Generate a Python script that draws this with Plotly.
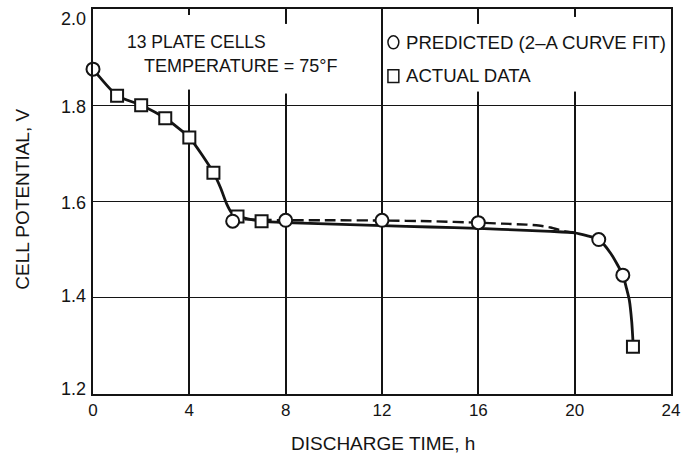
import plotly.graph_objects as go

# ---------------- data ----------------
# predicted points (circles)
pred_x = [0, 5.8, 8, 12, 16, 21, 22]
pred_y = [1.875, 1.559, 1.561, 1.561, 1.556, 1.521, 1.447]

# actual data points (squares)
act_x = [1, 2, 3, 4, 5, 6, 7, 22.42]
act_y = [1.820, 1.800, 1.773, 1.733, 1.660, 1.569, 1.559, 1.298]

# solid curve (through actual data)
solid_x = [0, 1, 2, 3, 4, 5, 5.3, 5.55, 5.75, 6, 7, 8, 10, 12, 14, 16, 18, 19, 20,
           20.5, 21, 21.5, 22, 22.15, 22.27, 22.37, 22.42]
solid_y = [1.875, 1.820, 1.800, 1.773, 1.733, 1.660, 1.628, 1.595, 1.577, 1.569, 1.559,
           1.556, 1.553, 1.550, 1.547, 1.544, 1.540, 1.538, 1.535,
           1.529, 1.521, 1.492, 1.447, 1.420, 1.395, 1.350, 1.310]

# dashed curve (predicted)
dash_x = [6.3, 7, 8, 10, 12, 14, 16, 17, 18, 18.5, 19, 19.6, 20]
dash_y = [1.563, 1.562, 1.561, 1.561, 1.5605, 1.559, 1.556, 1.554, 1.552, 1.550, 1.546, 1.538, 1.535]

x_ticks = [0, 4, 8, 12, 16, 20, 24]
x_tick_text = ["0", "4", "8", "12", "16", "20", "24"]
y_ticks = [1.2, 1.4, 1.6, 1.8, 2.0]
y_tick_text = ["1.2", "1.4", "1.6", "1.8", "2.0"]

x_title = "DISCHARGE TIME, h"
y_title = "CELL POTENTIAL, V"
note_lines = ["13 PLATE CELLS", "TEMPERATURE = 75°F"]
legend_labels = ["PREDICTED (2–A CURVE FIT)", "ACTUAL DATA"]

# ---------------- styling / layout ----------------
W, H = 687, 456
ML, MR, MT, MB = 93, 10, 7, 62
PW, PH = W - ML - MR, H - MT - MB
INK = "#141414"
FONT = "Liberation Sans, Arial, sans-serif"


def px(xp):
    return (xp - ML) / PW


def py(yp):
    return (H - MB - yp) / PH


fig = go.Figure()
fig.add_trace(go.Scatter(x=solid_x, y=solid_y, mode="lines",
                         line=dict(color=INK, width=2.8, shape="spline", smoothing=0.6),
                         hoverinfo="skip", showlegend=False))
fig.add_trace(go.Scatter(x=dash_x, y=dash_y, mode="lines",
                         line=dict(color=INK, width=2.4, dash="11px,5px", shape="spline", smoothing=0.6),
                         hoverinfo="skip", showlegend=False))
fig.add_trace(go.Scatter(x=act_x, y=act_y, mode="markers", name=legend_labels[1],
                         marker=dict(symbol="square", size=12, color="white",
                                     line=dict(color=INK, width=2)),
                         showlegend=False))
fig.add_trace(go.Scatter(x=pred_x, y=pred_y, mode="markers", name=legend_labels[0],
                         marker=dict(symbol="circle", size=13, color="white",
                                     line=dict(color=INK, width=2)),
                         cliponaxis=False, showlegend=False))

# white masks: the vertical gridlines are interrupted behind the text blocks
gaps = [(190, 13, 88), (288, 22, 92), (483, 22, 90), (580, 15, 90)]
shapes = []
for gx, gy0, gy1 in gaps:
    shapes.append(dict(type="rect", xref="paper", yref="paper",
                       x0=px(gx - 4), x1=px(gx + 4), y0=py(gy1), y1=py(gy0),
                       fillcolor="white", line=dict(width=0), layer="above"))
# legend symbols
shapes += [
    dict(type="circle", xref="paper", yref="paper", x0=px(391), x1=px(402), y0=py(47), y1=py(34),
         line=dict(color=INK, width=1.5), fillcolor="white", layer="above"),
    dict(type="rect", xref="paper", yref="paper", x0=px(391), x1=px(402), y0=py(81), y1=py(68),
         line=dict(color=INK, width=1.5), fillcolor="white", layer="above"),
]

ann_specs = [
    (note_lines[0], 125, 40, "left", 0, 17.5),
    (note_lines[1], 143, 64, "left", 0, 18),
    (legend_labels[0], 407, 41, "left", 0, 18.6),
    (legend_labels[1], 407, 74, "left", 0, 18.6),
    (x_title, 386, 444, "center", 0, 19),
    (y_title, 21, 198, "center", -90, 19),
]
ann = []
for text, xp, yp, xa, ang, fs in ann_specs:
    ann.append(dict(text=text, x=px(xp), y=py(yp), xref="paper", yref="paper",
                    xanchor=xa, yanchor="middle", textangle=ang, showarrow=False,
                    font=dict(family=FONT, size=fs, color=INK)))

# y tick labels (small vertical nudges like the original)
y_shift = {1.2: 5, 1.4: 2, 1.6: -1, 1.8: -2, 2.0: -10}
for v, t in zip(y_ticks, y_tick_text):
    ann.append(dict(text=t, x=px(88), y=v, xref="paper", yref="y", xanchor="right",
                    yanchor="middle", yshift=y_shift[v], showarrow=False,
                    font=dict(family=FONT, size=18, color=INK)))

fig.update_layout(
    width=W, height=H,
    margin=dict(l=ML, r=MR, t=MT, b=MB),
    paper_bgcolor="white", plot_bgcolor="white",
    shapes=shapes, annotations=ann,
    showlegend=False,
)
fig.update_xaxes(range=[0, 24], tickvals=x_ticks, ticktext=x_tick_text,
                 showgrid=True, gridcolor=INK, gridwidth=1.6, zeroline=False,
                 showline=True, linecolor=INK, linewidth=2, mirror=True,
                 ticks="", tickfont=dict(family=FONT, size=17, color=INK))
fig.update_yaxes(range=[1.2, 2.0], tickvals=y_ticks, showticklabels=False,
                 showgrid=True, gridcolor=INK, gridwidth=1.4, zeroline=False,
                 showline=True, linecolor=INK, linewidth=2, mirror=True, ticks="")

fig.write_html("out.html", config={"displayModeBar": False},
               post_script="document.body.style.margin='0';document.body.style.overflow='hidden';")
